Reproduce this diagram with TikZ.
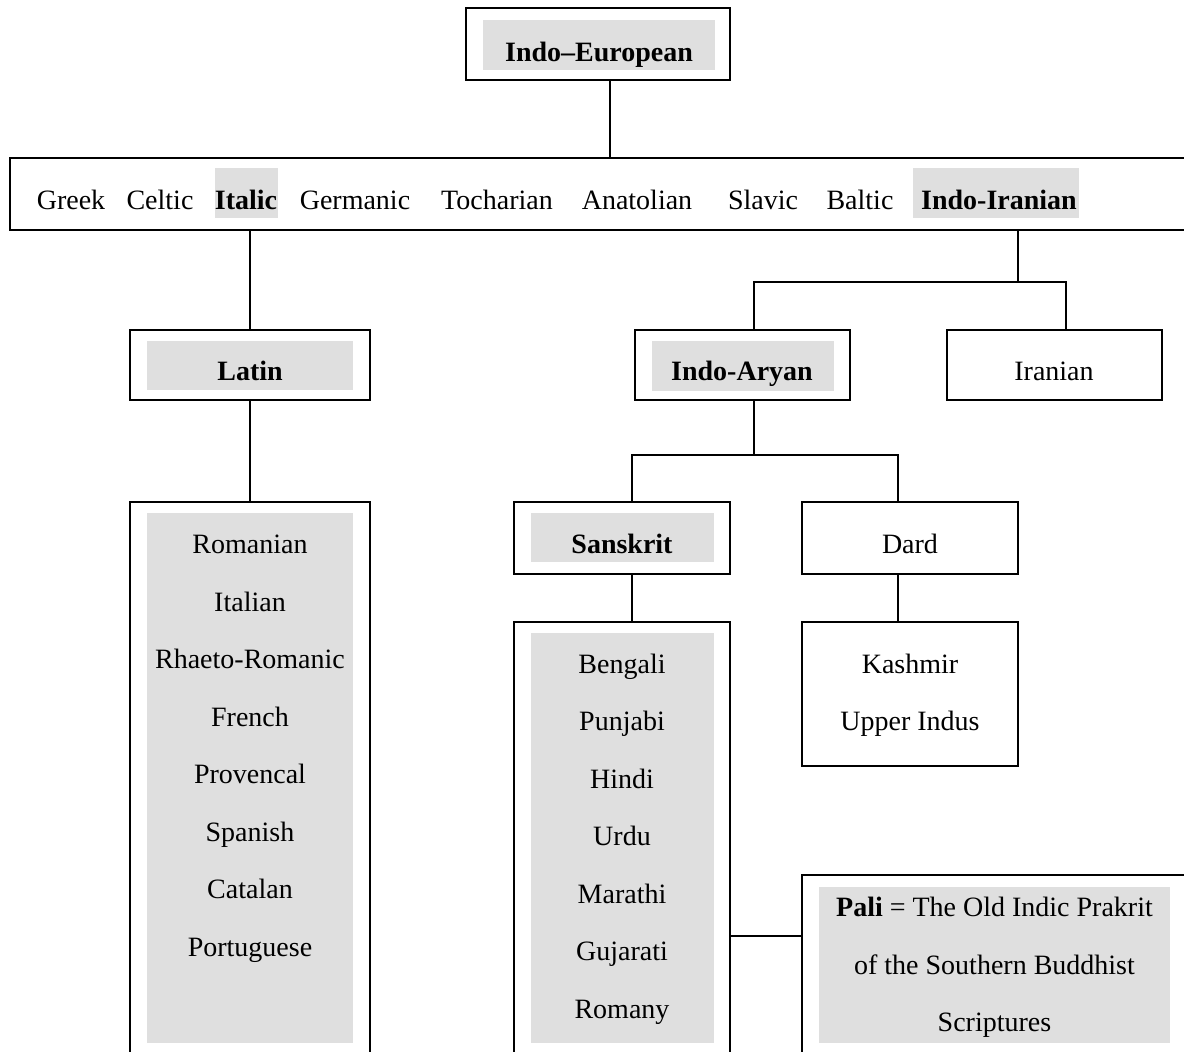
\documentclass[tikz,border=0pt]{standalone}
\usepackage{fontspec}
\setmainfont{Liberation Serif}
\usetikzlibrary{fit}
\definecolor{shade}{RGB}{223,223,223}
\begin{document}
\begin{tikzpicture}[x=0.5pt,y=-0.5pt,
  boxst/.style={draw, line width=1.1pt, inner sep=0pt},
  openbox/.style={line width=1.1pt},
  shadest/.style={fill=shade, inner sep=0pt},
  lbl/.style={anchor=base, inner sep=0pt, font=\fontsize{14}{16}\selectfont},
  conn/.style={line width=0.8pt}]
\clip (0,0) rectangle (1184,1052);
\fill[white] (0,0) rectangle (1184,1052);

% Indo-European
\node[boxst, fit={(466,8) (730,80)}] (ie) {};
\node[shadest, fit={(483,20) (715,70)}] (ieg) {};
\node[lbl] (ieT) at (599,62) {\textbf{Indo–European}};

% bar
\coordinate (barTL) at (10,158);
\coordinate (barTR) at (1195,158);
\coordinate (barBL) at (10,230);
\coordinate (barBR) at (1195,230);
\draw[openbox] (barTR) -- (barTL) -- (barBL) -- (barBR);
\coordinate (barIE) at (610,158);
\draw[conn] (ie.south -| barIE) -- (barIE);

\node[shadest, fit={(215,168) (278,218)}] (itg) {};
\node[shadest, fit={(913,168) (1079,218)}] (iig) {};
\node[lbl] (gr) at (71,210) {Greek};
\node[lbl] (ce) at (160,210) {Celtic};
\node[lbl] (it) at (246,210) {\textbf{Italic}};
\node[lbl] (ge) at (355,210) {Germanic};
\node[lbl] (to) at (497,210) {Tocharian};
\node[lbl] (an) at (637,210) {Anatolian};
\node[lbl] (sl) at (763,210) {Slavic};
\node[lbl] (ba) at (860,210) {Baltic};
\node[lbl] (ii) at (999,210) {\textbf{Indo-Iranian}};

% Latin
\node[boxst, fit={(130,330) (370,400)}] (la) {};
\node[shadest, fit={(147,341) (353,390)}] (lag) {};
\node[lbl] (laT) at (250,381) {\textbf{Latin}};
\draw[conn] (la.north |- barBL) -- (la.north);

% Indo-Aryan, Iranian
\node[boxst, fit={(635,330) (850,400)}] (ia) {};
\node[shadest, fit={(652,341) (834,391)}] (iag) {};
\node[lbl] (iaT) at (742,381) {\textbf{Indo-Aryan}};
\node[boxst, fit={(947,330) (1162,400)}] (ir) {};
\node[lbl] (irT) at (1054,381) {Iranian};
\coordinate (jA) at (1018,282);
\coordinate (jL) at (754,282);
\coordinate (jR) at (1066,282);
\draw[conn] (jA |- barBL) -- (jA);
\draw[conn] (jL |- ia.north) -- (jL) -- (jR) -- (jR |- ir.north);

% Sanskrit, Dard
\node[boxst, fit={(514,502) (730,574)}] (sa) {};
\node[shadest, fit={(531,513) (714,562)}] (sag) {};
\node[lbl] (saT) at (622,554) {\textbf{Sanskrit}};
\node[boxst, fit={(802,502) (1018,574)}] (da) {};
\node[lbl] (daT) at (910,554) {Dard};
\coordinate (kA) at (754,455);
\coordinate (kL) at (632,455);
\coordinate (kR) at (898,455);
\draw[conn] (kA |- ia.south) -- (kA);
\draw[conn] (kL |- sa.north) -- (kL) -- (kR) -- (kR |- da.north);

% Latin list
\coordinate (llA) at (130,1070);
\coordinate (llB) at (130,502);
\coordinate (llC) at (370,502);
\coordinate (llD) at (370,1070);
\draw[openbox] (llA) -- (llB) -- (llC) -- (llD);
\node[shadest, fit={(147,513) (353,1043)}] (llg) {};
\coordinate (llTop) at (250,502);
\draw[conn] (la.south) -- (llTop);
\node[lbl] at (250,554) {Romanian};
\node[lbl] at (250,611.5) {Italian};
\node[lbl] at (250,669) {Rhaeto-Romanic};
\node[lbl] at (250,726.5) {French};
\node[lbl] at (250,784) {Provencal};
\node[lbl] at (250,841.5) {Spanish};
\node[lbl] at (250,899) {Catalan};
\node[lbl] at (250,956.5) {Portuguese};

% Sanskrit list
\coordinate (slA) at (514,1070);
\coordinate (slB) at (514,622);
\coordinate (slC) at (730,622);
\coordinate (slD) at (730,1070);
\draw[openbox] (slA) -- (slB) -- (slC) -- (slD);
\node[shadest, fit={(531,633) (714,1043)}] (slg) {};
\coordinate (slTop) at (632,622);
\draw[conn] (slTop |- sa.south) -- (slTop);
\node[lbl] at (622,673.5) {Bengali};
\node[lbl] at (622,731) {Punjabi};
\node[lbl] at (622,788.5) {Hindi};
\node[lbl] at (622,846) {Urdu};
\node[lbl] at (622,903.5) {Marathi};
\node[lbl] at (622,961) {Gujarati};
\node[lbl] at (622,1018.5) {Romany};

% Kashmir
\node[boxst, fit={(802,622) (1018,766)}] (ka) {};
\node[lbl] at (910,673.5) {Kashmir};
\node[lbl] at (910,731) {Upper Indus};
\draw[conn] (kR |- da.south) -- (kR |- ka.north);

% Pali
\coordinate (paA) at (1195,875);
\coordinate (paB) at (802,875);
\coordinate (paC) at (802,1070);
\draw[openbox] (paA) -- (paB) -- (paC);
\node[shadest, fit={(819,887) (1170,1043)}] (pag) {};
\node[lbl] at (994.5,916.5) {\textbf{Pali} = The Old Indic Prakrit};
\node[lbl] at (994.5,974) {of the Southern Buddhist};
\node[lbl] at (994.5,1031.5) {Scriptures};
\coordinate (bpL) at (730,936);
\coordinate (bpR) at (802,936);
\draw[conn] (bpL) -- (bpR);
\end{tikzpicture}
\end{document}
